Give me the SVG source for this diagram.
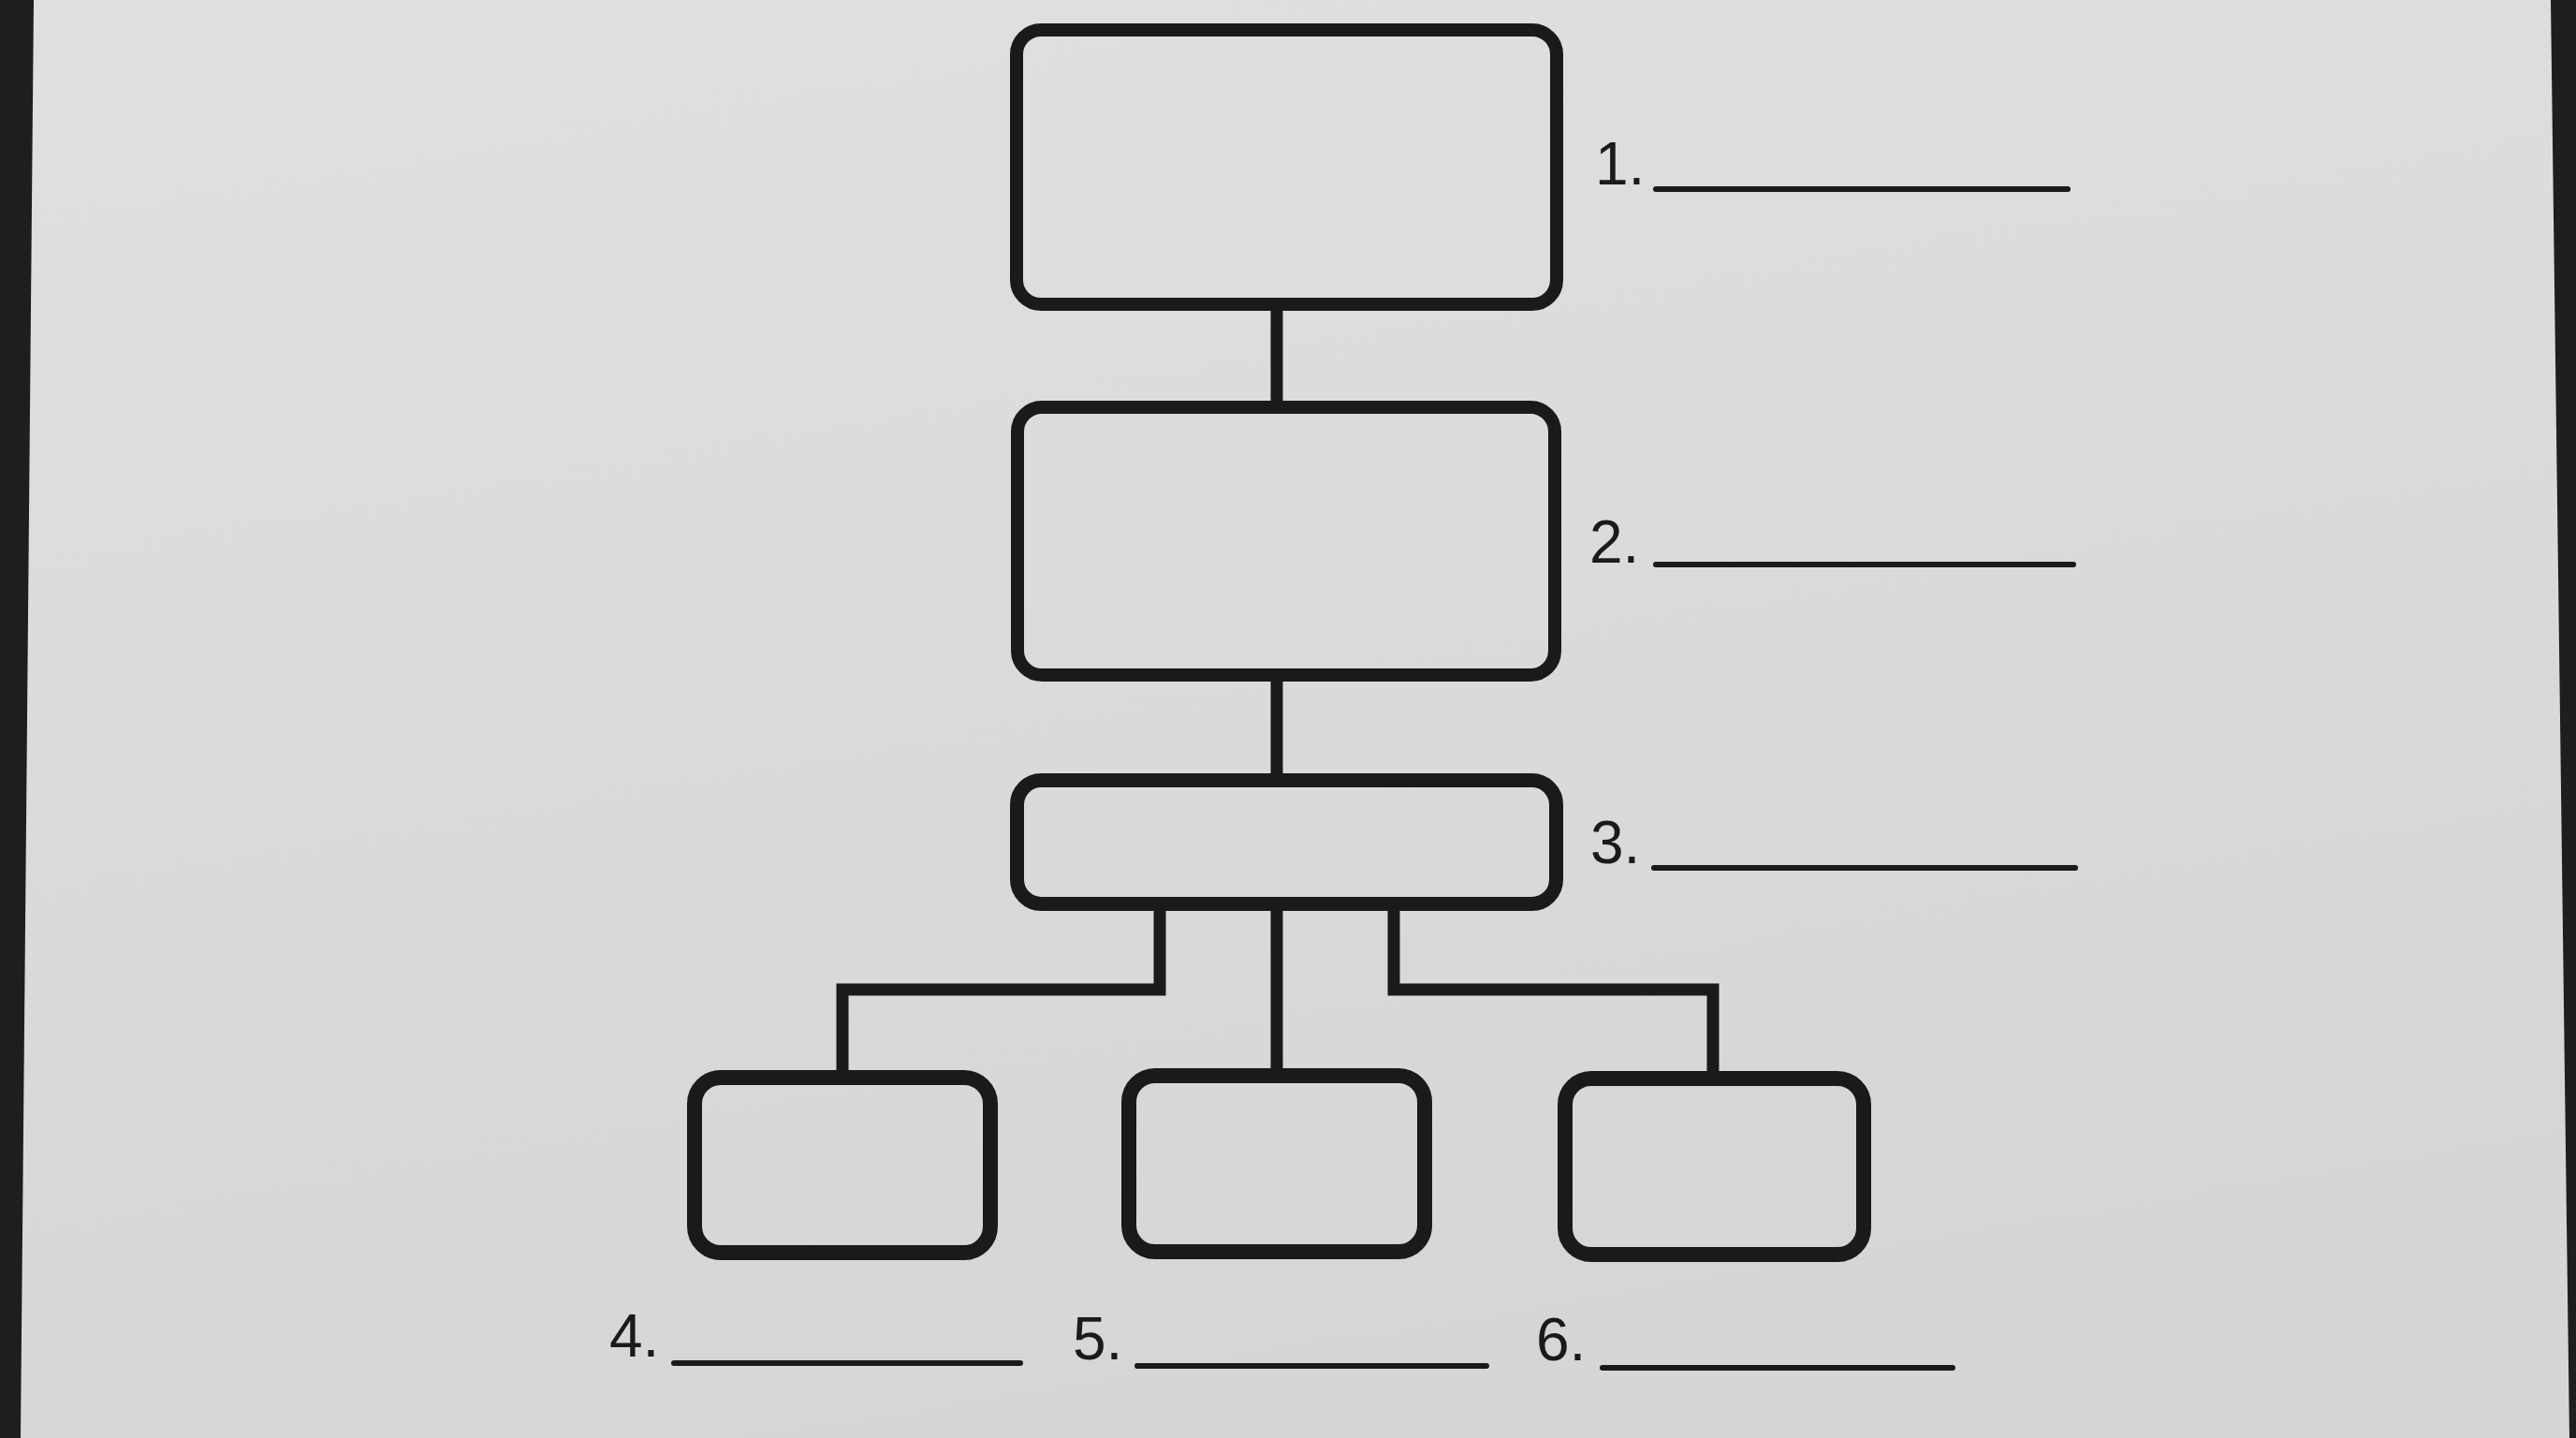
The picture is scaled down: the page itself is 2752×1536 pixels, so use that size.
<svg xmlns="http://www.w3.org/2000/svg" width="2752" height="1536" viewBox="0 0 2752 1536">
  <defs>
    <linearGradient id="paper" x1="0" y1="0" x2="0.3" y2="1">
      <stop offset="0" stop-color="#dfe0df"/>
      <stop offset="1" stop-color="#d5d6d5"/>
    </linearGradient>
    <style>
      .box { fill: none; stroke: #1a1a1a; stroke-linejoin: round; }
      .conn { fill: none; stroke: #1a1a1a; stroke-width: 13; stroke-linejoin: miter; stroke-linecap: butt; }
      .num { font-family: "Liberation Sans", Arial, sans-serif; font-size: 64px; fill: #1a1a1a; }
      .blank { stroke: #1a1a1a; stroke-width: 6; stroke-linecap: round; }
    </style>
  </defs>

  <rect x="0" y="0" width="2752" height="1536" fill="#1e1e1e"/>
  <polygon points="36,0 2725,0 2745,1536 22,1536" fill="url(#paper)"/>

  <g id="connectors">
    <path class="conn" d="M1364 332 V430"/>
    <path class="conn" d="M1364 728 V828"/>
    <path class="conn" d="M1239 972 V1057 H900 V1145"/>
    <path class="conn" d="M1364 972 V1143"/>
    <path class="conn" d="M1489 972 V1057 H1830 V1146"/>
  </g>

  <g id="node1">
    <rect class="box" x="1086" y="32" width="577" height="293" rx="26" stroke-width="14"/>
    <text class="num" x="1704" y="197">1.</text>
    <line class="blank" x1="1769" y1="202" x2="2209" y2="202"/>
  </g>

  <g id="node2">
    <rect class="box" x="1087" y="435" width="574" height="286" rx="26" stroke-width="14"/>
    <text class="num" x="1698" y="601">2.</text>
    <line class="blank" x1="1769" y1="603" x2="2215" y2="603"/>
  </g>

  <g id="node3">
    <rect class="box" x="1086.5" y="833.5" width="576" height="132" rx="26" stroke-width="15"/>
    <text class="num" x="1699" y="922">3.</text>
    <line class="blank" x1="1767" y1="927" x2="2217" y2="927"/>
  </g>

  <g id="node4">
    <rect class="box" x="742" y="1151" width="316" height="187" rx="28" stroke-width="16"/>
    <text class="num" x="651" y="1449">4.</text>
    <line class="blank" x1="720" y1="1456" x2="1090" y2="1456"/>
  </g>

  <g id="node5">
    <rect class="box" x="1206" y="1149" width="316" height="188" rx="28" stroke-width="16"/>
    <text class="num" x="1146" y="1452">5.</text>
    <line class="blank" x1="1215" y1="1459" x2="1588" y2="1459"/>
  </g>

  <g id="node6">
    <rect class="box" x="1672" y="1152" width="319" height="188" rx="28" stroke-width="16"/>
    <text class="num" x="1641" y="1453">6.</text>
    <line class="blank" x1="1712" y1="1461" x2="2086" y2="1461"/>
  </g>
</svg>
